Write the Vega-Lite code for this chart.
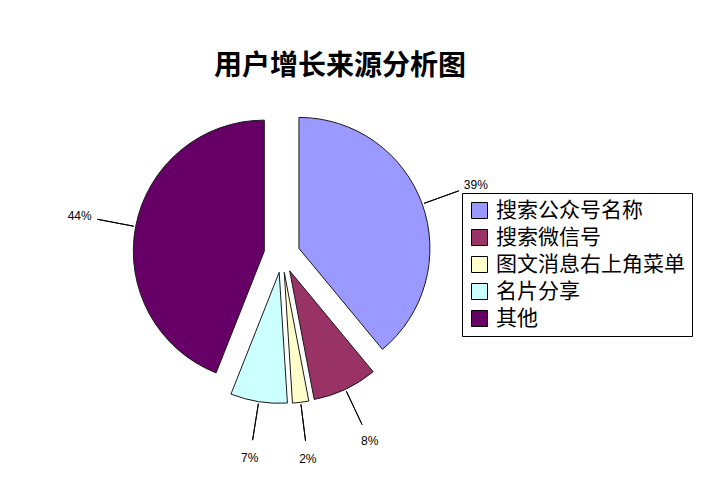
{
  "$schema": "https://vega.github.io/schema/vega-lite/v6.json",
  "width": 564,
  "height": 313,
  "padding": {"left": 0, "top": 53, "right": 0, "bottom": 0},
  "background": "white",
  "title": {
    "text": "用户增长来源分析图",
    "font": "Noto Sans CJK SC",
    "fontSize": 28,
    "fontWeight": "bold",
    "color": "#000000",
    "anchor": "middle",
    "dx": 58,
    "offset": 17
  },
  "data": {
    "values": [
      {"source": "搜索公众号名称", "pct": 39},
      {"source": "搜索微信号", "pct": 8},
      {"source": "图文消息右上角菜单", "pct": 2},
      {"source": "名片分享", "pct": 7},
      {"source": "其他", "pct": 44}
    ]
  },
  "transform": [
    {"window": [{"op": "sum", "field": "pct", "as": "end"}], "frame": [null, 0]},
    {"calculate": "datum.end - datum.pct", "as": "start"},
    {"calculate": "datum.end - datum.pct / 2", "as": "mid"},
    {"calculate": "datum.pct + '%'", "as": "label"}
  ],
  "layer": [
    {
      "mark": {
        "type": "arc",
        "outerRadius": 131,
        "stroke": "#1a1a1a",
        "strokeWidth": 1,
        "xOffset": {"expr": "18 * sin(2 * PI * datum.mid / 100)"},
        "yOffset": {"expr": "-18 * cos(2 * PI * datum.mid / 100)"}
      },
      "encoding": {
        "theta": {"field": "start", "type": "quantitative", "stack": null, "scale": {"domain": [0, 100]}},
        "theta2": {"field": "end"},
        "color": {
          "field": "source",
          "type": "nominal",
          "sort": null,
          "scale": {
            "domain": ["搜索公众号名称", "搜索微信号", "图文消息右上角菜单", "名片分享", "其他"],
            "range": ["#9999FF", "#993366", "#FFFFCC", "#CCFFFF", "#660066"]
          },
          "legend": {
            "title": null,
            "orient": "none",
            "legendX": 462,
            "legendY": 95,
            "labelFont": "Noto Sans CJK SC",
            "labelFontSize": 21,
            "labelColor": "#000000",
            "labelLimit": 400,
            "symbolType": "square",
            "symbolSize": 256,
            "symbolStrokeColor": "#000000",
            "symbolStrokeWidth": 1,
            "labelOffset": 6,
            "rowPadding": 5,
            "padding": 7,
            "strokeColor": "#000000",
            "fillColor": "white",
            "cornerRadius": 0
          }
        }
      }
    },
    {
      "mark": {"type": "arc", "innerRadius": 151, "outerRadius": 188, "fill": null, "stroke": "#000000", "strokeWidth": 1},
      "encoding": {
        "theta": {"field": "mid", "type": "quantitative", "stack": null, "scale": {"domain": [0, 100]}},
        "theta2": {"field": "mid"}
      }
    },
    {
      "mark": {"type": "text", "radius": 206, "font": "Liberation Sans", "fontSize": 12, "color": "#000000", "align": "center", "baseline": "middle"},
      "encoding": {
        "theta": {"field": "mid", "type": "quantitative", "stack": null, "scale": {"domain": [0, 100]}},
        "text": {"field": "label"}
      }
    }
  ],
  "config": {"view": {"stroke": null}}
}
